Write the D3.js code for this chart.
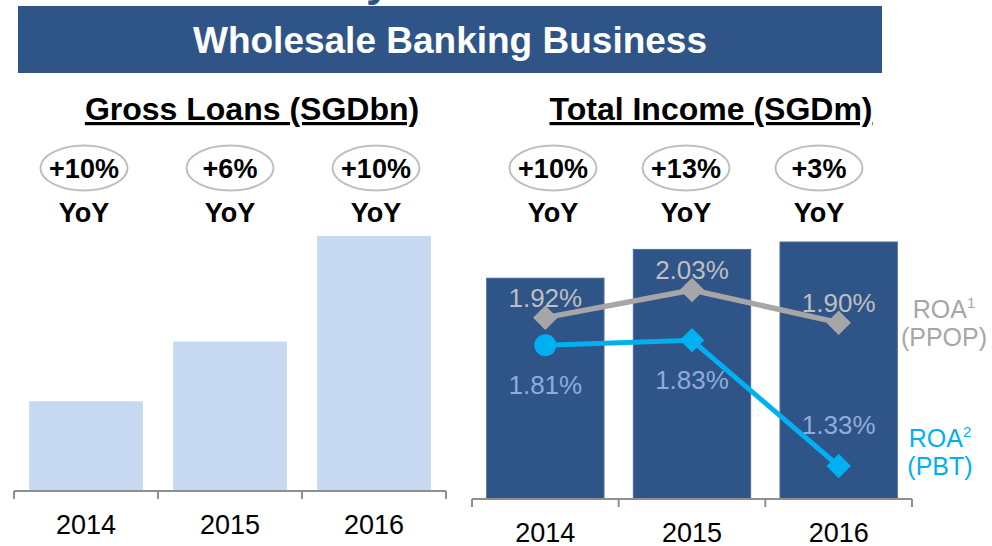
<!DOCTYPE html>
<html>
<head>
<meta charset="utf-8">
<script src="https://cdn.jsdelivr.net/npm/d3@7"></script>
<style>
  html, body { margin: 0; padding: 0; background: #fff; }
  svg { display: block; font-family: "Liberation Sans", Arial, Helvetica, sans-serif; }
</style>
</head>
<body>
<svg id="chart" width="992" height="546"></svg>
<script>
// Wholesale Banking: loans and income by year
const years = ["2014", "2015", "2016"];
const grossLoans = [113.2, 120, 132];          // SGDbn
const loansYoY = ["+10%", "+6%", "+10%"];
const totalIncome = [2380, 2690, 2770];        // SGDm
const incomeYoY = ["+10%", "+13%", "+3%"];
const roaPPOP = [1.92, 2.03, 1.90];            // %
const roaPBT = [1.81, 1.83, 1.33];             // %
const pbtLabelSide = ["below", "below", "above"];

const navy = "#2F5487";
const lightBar = "#C6D9F0";
const grey = "#A6A6A6";
const cyan = "#00B0F0";

const svg = d3.select("#chart");

// cut-off slide heading above the banner
svg.append("text")
  .attr("x", 366).attr("y", -4)
  .attr("font-size", 44).attr("font-weight", "bold")
  .attr("fill", navy).text("y");

// banner
svg.append("rect")
  .attr("x", 18).attr("y", 6).attr("width", 864).attr("height", 67)
  .attr("fill", navy);
svg.append("text")
  .attr("x", 450).attr("y", 53)
  .attr("text-anchor", "middle")
  .attr("font-size", 37).attr("font-weight", "bold")
  .attr("fill", "#fff")
  .text("Wholesale Banking Business");

function subtitle(x, text) {
  svg.append("text")
    .attr("x", x).attr("y", 120)
    .attr("text-anchor", "middle")
    .attr("font-size", 32).attr("font-weight", "bold")
    .attr("fill", "#000")
    .style("text-decoration", "underline")
    .text(text);
}
subtitle(252, "Gross Loans (SGDbn)");
subtitle(711, "Total Income (SGDm)");

function yoyBadges(xs, labels) {
  const g = svg.append("g");
  years.forEach((yr, i) => {
    const cx = xs(yr);
    g.append("ellipse")
      .attr("cx", cx).attr("cy", 168).attr("rx", 43.5).attr("ry", 22.5)
      .attr("fill", "none").attr("stroke", "#BFBFBF").attr("stroke-width", 2);
    g.append("text")
      .attr("x", cx).attr("y", 178)
      .attr("text-anchor", "middle")
      .attr("font-size", 27).attr("font-weight", "bold")
      .text(labels[i]);
    g.append("text")
      .attr("x", cx).attr("y", 222)
      .attr("text-anchor", "middle")
      .attr("font-size", 27).attr("font-weight", "bold")
      .text("YoY");
  });
}

function categoryAxis(x, y0) {
  const g = svg.append("g");
  const [r0, r1] = x.range();
  g.append("line")
    .attr("x1", r0).attr("x2", r1).attr("y1", y0).attr("y2", y0)
    .attr("stroke", "#8F8F8F").attr("stroke-width", 2);
  const edges = years.map(d => x(d) - x.step() * x.paddingOuter()).concat([r1]);
  g.selectAll("line.tick").data(edges).join("line")
    .attr("class", "tick")
    .attr("x1", d => d).attr("x2", d => d)
    .attr("y1", y0).attr("y2", y0 + 8)
    .attr("stroke", "#8F8F8F").attr("stroke-width", 2);
  g.selectAll("text").data(years).join("text")
    .attr("x", d => x(d) + x.bandwidth() / 2)
    .attr("y", y0 + 43)
    .attr("text-anchor", "middle")
    .attr("font-size", 27)
    .attr("fill", "#000")
    .text(d => d);
}

// ---- Gross loans ----
const xL = d3.scaleBand().domain(years).range([14, 446]).paddingInner(0.21).paddingOuter(0.105);
const yL = d3.scaleLinear().domain([103, 132]).range([491, 236]);
svg.append("g").selectAll("rect").data(grossLoans).join("rect")
  .attr("x", (d, i) => xL(years[i]))
  .attr("width", xL.bandwidth())
  .attr("y", d => yL(d))
  .attr("height", d => yL.range()[0] - yL(d))
  .attr("fill", lightBar);
categoryAxis(xL, 491);
yoyBadges(d3.scalePoint().domain(years).range([84, 376]), loansYoY);

// ---- Total income ----
const xR = d3.scaleBand().domain(years).range([472, 912]).paddingInner(0.2).paddingOuter(0.1);
const yR = d3.scaleLinear().domain([0, 2770]).range([499, 242]);
svg.append("g").selectAll("rect").data(totalIncome).join("rect")
  .attr("x", (d, i) => xR(years[i]))
  .attr("width", xR.bandwidth())
  .attr("y", d => yR(d))
  .attr("height", d => yR(0) - yR(d))
  .attr("fill", navy)
  .attr("stroke", "#4A6B9C").attr("stroke-width", 1);
categoryAxis(xR, 499);
yoyBadges(d3.scalePoint().domain(years).range([553, 819]), incomeYoY);

// ---- ROA lines ----
const yRoa = d3.scaleLinear().domain([1.33, 2.03]).range([466, 290]);
const cx = i => xR(years[i]) + xR.bandwidth() / 2;
const line = d3.line().x((d, i) => cx(i)).y(d => yRoa(d));
const fmt = v => v.toFixed(2) + "%";
const diamond = d3.symbol().type(d3.symbolSquare).size(300);

// PPOP
svg.append("path").datum(roaPPOP)
  .attr("d", line).attr("fill", "none")
  .attr("stroke", grey).attr("stroke-width", 5.5);
svg.append("g").selectAll("path").data(roaPPOP).join("path")
  .attr("d", diamond)
  .attr("transform", (d, i) => `translate(${cx(i)},${yRoa(d)}) rotate(45)`)
  .attr("fill", grey);
svg.append("g").selectAll("text").data(roaPPOP).join("text")
  .attr("x", (d, i) => cx(i))
  .attr("y", d => yRoa(d) - 11)
  .attr("text-anchor", "middle")
  .attr("font-size", 26)
  .attr("fill", "#BFBFBF")
  .text(fmt);

// PBT
svg.append("path").datum(roaPBT)
  .attr("d", line).attr("fill", "none")
  .attr("stroke", cyan).attr("stroke-width", 5);
svg.append("g").selectAll("path").data(roaPBT).join("path")
  .attr("d", (d, i) => i === 0
    ? d3.symbol().type(d3.symbolCircle).size(Math.PI * 11 * 11)()
    : diamond())
  .attr("transform", (d, i) => `translate(${cx(i)},${yRoa(d)})` + (i === 0 ? "" : " rotate(45)"))
  .attr("fill", cyan);
svg.append("g").selectAll("text").data(roaPBT).join("text")
  .attr("x", (d, i) => cx(i))
  .attr("y", (d, i) => pbtLabelSide[i] === "below" ? yRoa(d) + 49 : yRoa(d) - 32)
  .attr("text-anchor", "middle")
  .attr("font-size", 26)
  .attr("fill", "#8FAADC")
  .text(fmt);

// series labels
function seriesLabel(x, y, name, sup, sub, color) {
  const t = svg.append("text")
    .attr("x", x).attr("y", y)
    .attr("text-anchor", "middle")
    .attr("font-size", 25)
    .attr("fill", color);
  t.append("tspan").text(name);
  t.append("tspan").attr("font-size", 15).attr("dy", -10).text(sup);
  svg.append("text")
    .attr("x", x).attr("y", y + 28)
    .attr("text-anchor", "middle")
    .attr("font-size", 25)
    .attr("fill", color)
    .text(sub);
}
seriesLabel(944, 318, "ROA", "1", "(PPOP)", grey);
seriesLabel(940, 447, "ROA", "2", "(PBT)", cyan);
</script>
</body>
</html>
